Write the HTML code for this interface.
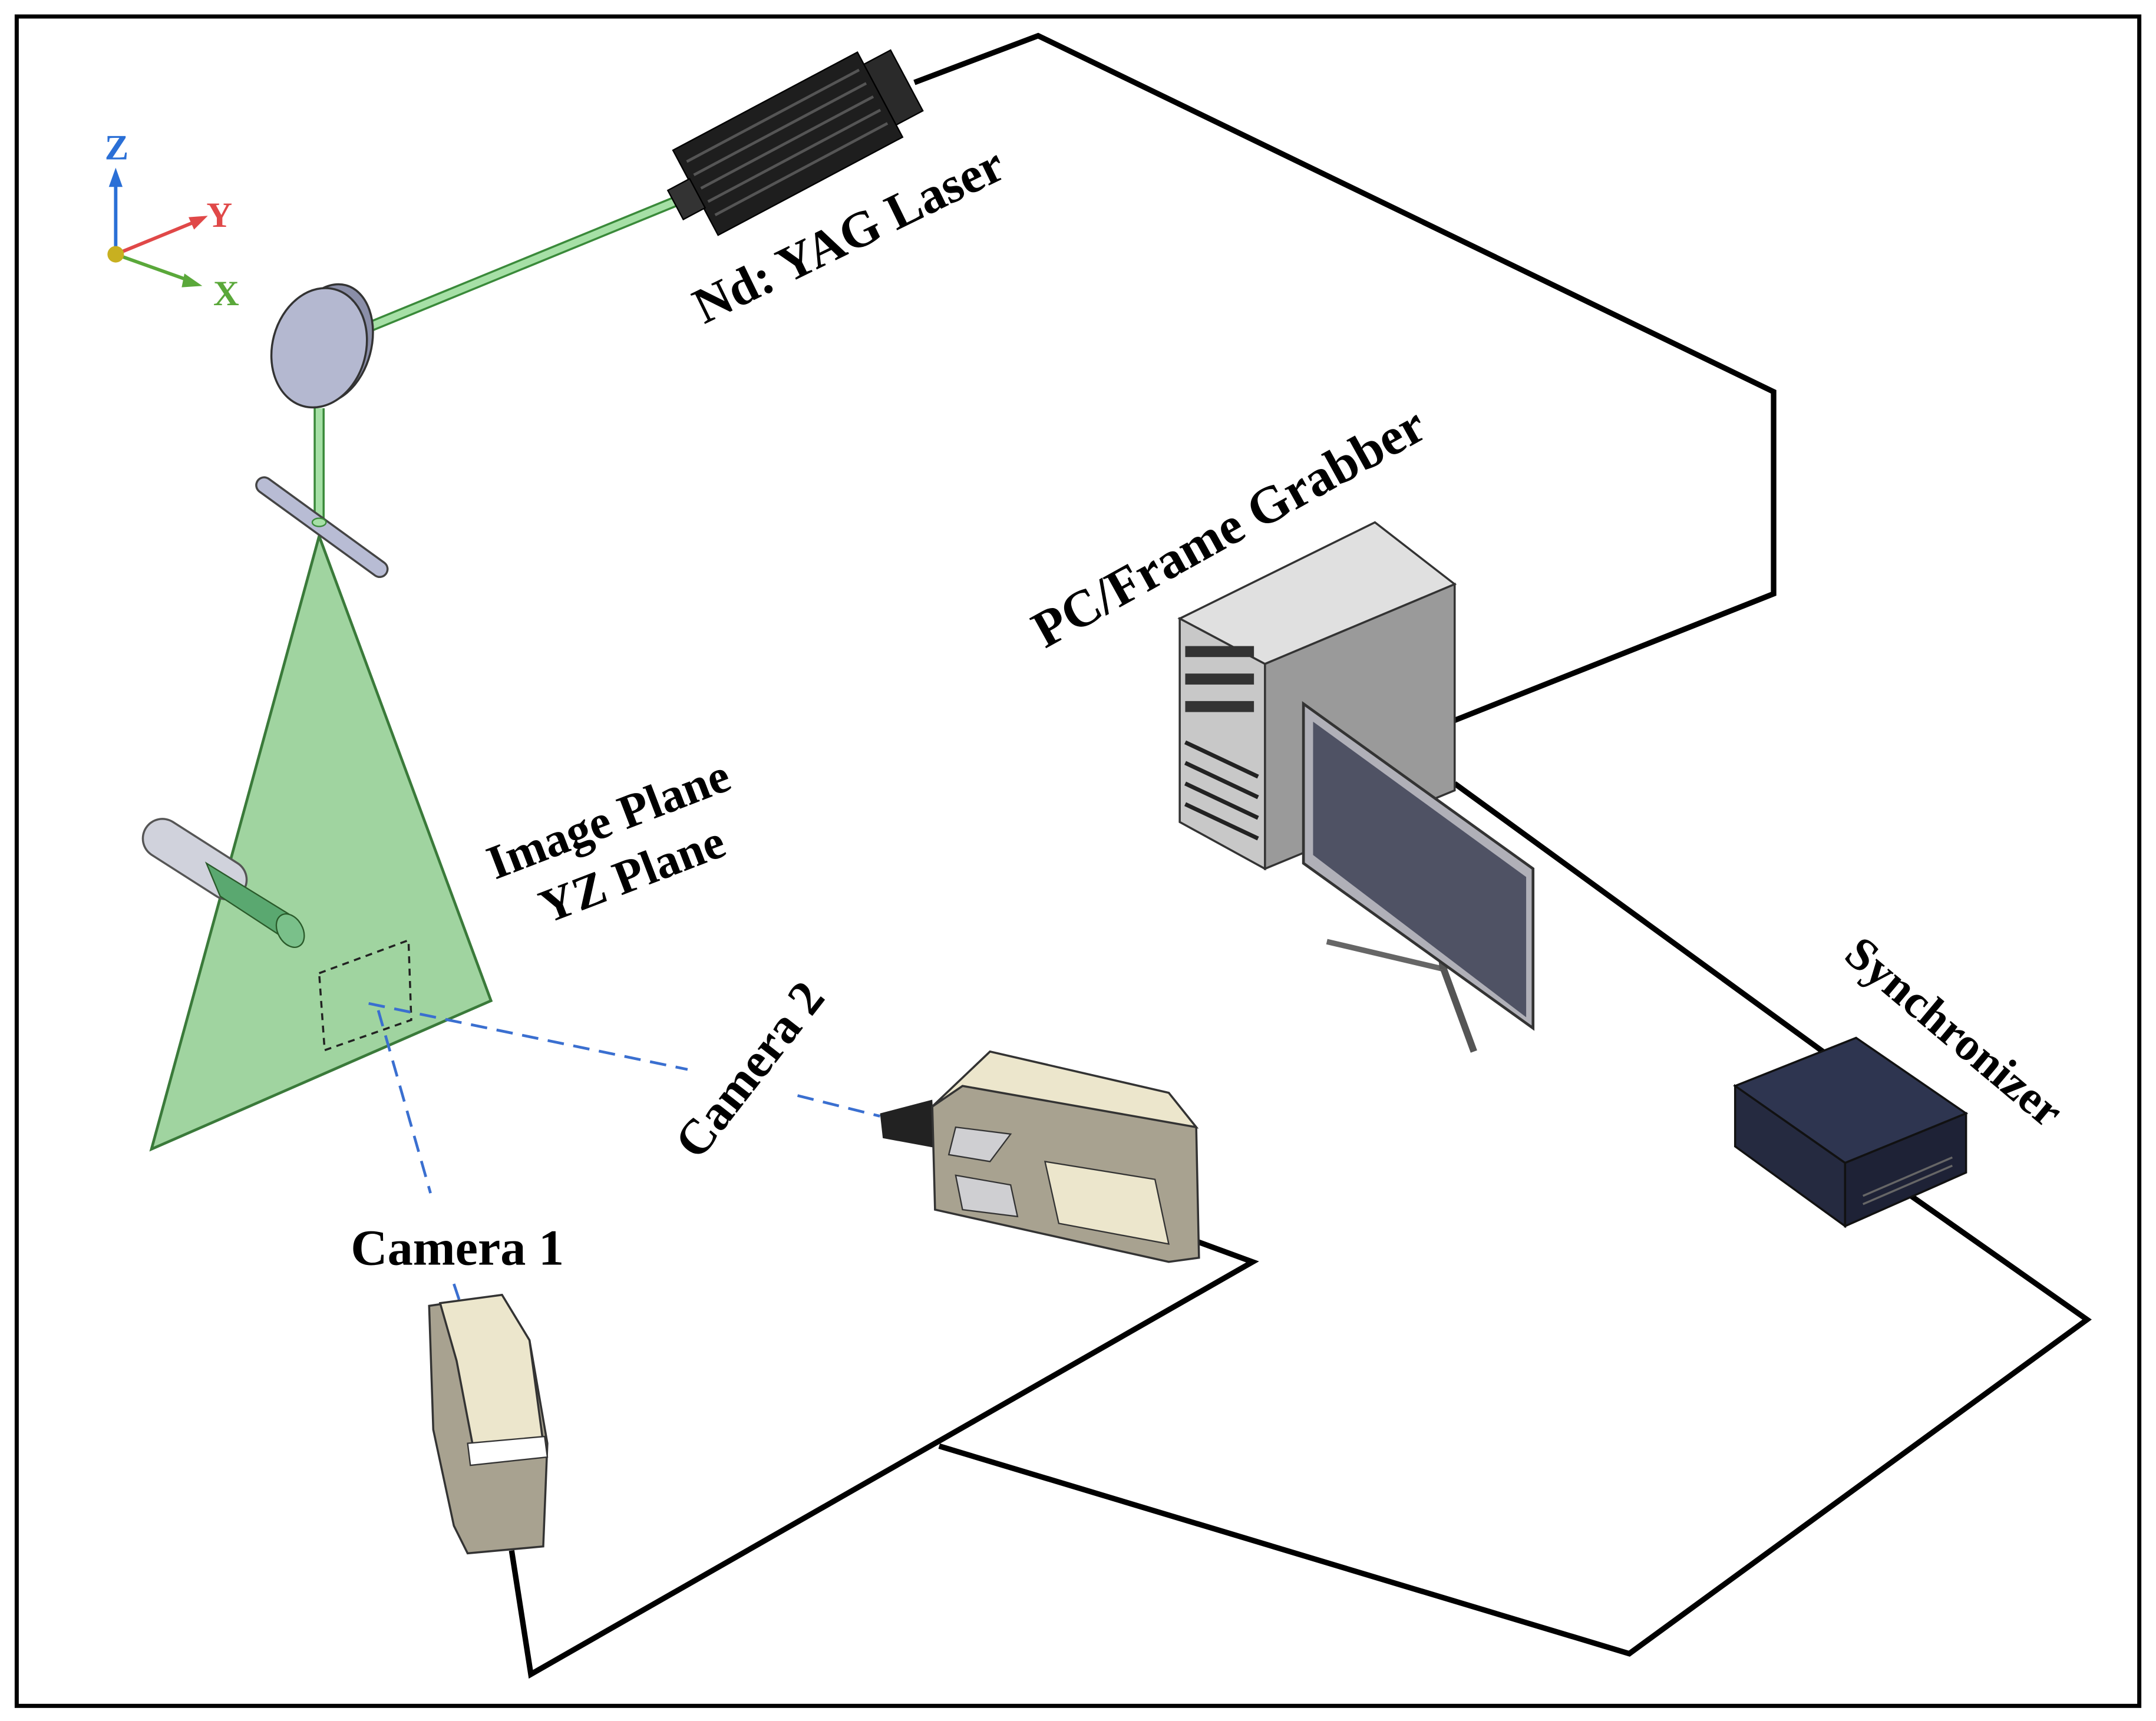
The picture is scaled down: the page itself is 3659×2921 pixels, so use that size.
<!DOCTYPE html>
<html><head><meta charset="utf-8"><style>
html,body{margin:0;padding:0;background:#fff;}
svg{display:block;}
text{font-family:"Liberation Serif",serif;font-weight:bold;}
</style></head><body>
<svg width="3659" height="2921" viewBox="0 0 1568 1252" xmlns="http://www.w3.org/2000/svg">
<rect x="0" y="0" width="1568" height="1252" fill="#fff"/>
<rect x="12" y="12" width="1544" height="1229" fill="none" stroke="#000" stroke-width="3"/>

<g fill="none" stroke="#000" stroke-width="4" stroke-linejoin="miter">
<polyline points="665,60 755,26 1290,285 1290,432 1058,524"/>
<polyline points="1058,570 1330,768"/>
<polyline points="1390,870 1518,960 1185,1203 683,1052"/>
<polyline points="372,1128 386,1218 911,918 862,900"/>
</g>

<g stroke-width="2.5">
<line x1="84" y1="185" x2="84" y2="128" stroke="#2a6fd6"/>
<polygon points="84,122 79,136 89,136" fill="#2a6fd6"/>
<line x1="84" y1="185" x2="145" y2="160" stroke="#e04848"/>
<polygon points="151,157 137,158 141,167" fill="#e04848"/>
<line x1="84" y1="185" x2="140" y2="205" stroke="#5aa83a"/>
<polygon points="147,208 134,199 132,209" fill="#5aa83a"/>
<circle cx="84" cy="185" r="6" fill="#c8b020"/>
</g>
<text x="76" y="116" font-size="26" fill="#2a6fd6" font-family="Liberation Sans">Z</text>
<text x="150" y="165" font-size="26" fill="#e04848" font-family="Liberation Sans">Y</text>
<text x="155" y="222" font-size="26" fill="#5aa83a" font-family="Liberation Sans">X</text>

<line x1="268" y1="238" x2="495" y2="145" stroke="#3a8a3a" stroke-width="8"/>
<line x1="268" y1="238" x2="495" y2="145" stroke="#a6e0a6" stroke-width="5"/>
<line x1="232" y1="297" x2="232" y2="382" stroke="#3a8a3a" stroke-width="8"/>
<line x1="232" y1="297" x2="232" y2="382" stroke="#a6e0a6" stroke-width="5"/>

<ellipse cx="240" cy="250" rx="30" ry="44" fill="#8a8ea8" stroke="#333" stroke-width="1.5" transform="rotate(15 240 250)"/>
<ellipse cx="232" cy="253" rx="34" ry="44" fill="#b4b8d0" stroke="#333" stroke-width="1.5" transform="rotate(15 232 253)"/>

<polygon points="232,390 110,836 357,728" fill="#a0d4a0" stroke="#3a7a3a" stroke-width="2"/>
<polygon points="232,708 297,684 299,742 236,764" fill="none" stroke="#222" stroke-width="1.5" stroke-dasharray="5,4"/>

<line x1="192" y1="353" x2="276" y2="414" stroke="#444" stroke-width="13" stroke-linecap="round"/>
<line x1="192" y1="353" x2="276" y2="414" stroke="#b8bcd4" stroke-width="10" stroke-linecap="round"/>
<ellipse cx="232" cy="380" rx="5" ry="3" fill="#a6e0a6" stroke="#3a8a3a"/>

<line x1="118" y1="610" x2="165" y2="640" stroke="#555" stroke-width="30" stroke-linecap="round"/>
<line x1="118" y1="610" x2="165" y2="640" stroke="#d0d2dc" stroke-width="27" stroke-linecap="round"/>
<polygon points="150,628 160,652 215,688 210,665" fill="#5aa870" stroke="#2a5a2a"/>
<ellipse cx="211" cy="677" rx="9" ry="13" fill="#7ac08a" stroke="#2a5a2a" transform="rotate(-30 211 677)"/>

<g transform="rotate(-28 575 100)">
<rect x="495" y="68" width="152" height="70" fill="#1e1e1e" stroke="#000"/>
<g stroke="#555" stroke-width="2">
<line x1="500" y1="80" x2="642" y2="80"/><line x1="500" y1="91" x2="642" y2="91"/>
<line x1="500" y1="102" x2="642" y2="102"/><line x1="500" y1="113" x2="642" y2="113"/>
<line x1="500" y1="124" x2="642" y2="124"/>
</g>
<rect x="647" y="78" width="22" height="50" fill="#2a2a2a" stroke="#000"/>
<rect x="478" y="92" width="18" height="24" fill="#333" stroke="#000"/>
</g>

<g stroke="#3a6fd0" stroke-width="2" stroke-dasharray="12,7" fill="none">
<line x1="268" y1="730" x2="500" y2="778"/>
<line x1="580" y1="797" x2="640" y2="812"/>
<line x1="275" y1="735" x2="313" y2="868"/>
<line x1="330" y1="934" x2="334" y2="946"/>
</g>

<polygon points="640,810 678,800 680,835 642,828" fill="#222"/>
<polygon points="720,765 850,795 870,820 872,915 850,918 680,880 678,805" fill="#a8a290" stroke="#333" stroke-width="1.5"/>
<polygon points="720,765 850,795 870,820 700,790 678,805" fill="#ece6cc" stroke="#333" stroke-width="1.5"/>
<polygon points="695,820 735,825 720,845 690,840" fill="#cfcfd2" stroke="#333"/>
<polygon points="695,855 735,862 740,885 700,880" fill="#cfcfd2" stroke="#333"/>
<polygon points="760,845 840,858 850,905 770,890" fill="#ece6cc" stroke="#333"/>

<polygon points="312,950 365,942 385,975 398,1050 395,1125 340,1130 330,1110 315,1040" fill="#a8a290" stroke="#333" stroke-width="1.5"/>
<polygon points="320,948 365,942 385,975 395,1050 345,1058 332,990" fill="#ece6cc" stroke="#333" stroke-width="1.5"/>
<polygon points="340,1050 396,1045 398,1060 342,1066" fill="#fff" stroke="#333"/>

<polygon points="858,450 1000,380 1058,425 920,483" fill="#e0e0e0" stroke="#333" stroke-width="1.5"/>
<polygon points="920,483 1058,425 1058,575 920,632" fill="#9a9a9a" stroke="#333" stroke-width="1.5"/>
<polygon points="858,450 920,483 920,632 858,598" fill="#c8c8c8" stroke="#333" stroke-width="1.5"/>
<g fill="#333"><rect x="862" y="470" width="50" height="8"/><rect x="862" y="490" width="50" height="8"/><rect x="862" y="510" width="50" height="8"/></g>
<g stroke="#222" stroke-width="3"><line x1="862" y1="540" x2="915" y2="565"/><line x1="862" y1="555" x2="915" y2="580"/><line x1="862" y1="570" x2="915" y2="595"/><line x1="862" y1="585" x2="915" y2="610"/></g>

<line x1="1050" y1="705" x2="965" y2="685" stroke="#666" stroke-width="4"/>
<line x1="1050" y1="705" x2="1072" y2="765" stroke="#555" stroke-width="5"/>
<line x1="1050" y1="705" x2="1045" y2="660" stroke="#555" stroke-width="6"/>
<polygon points="948,512 1115,632 1115,748 948,628" fill="#b0b0b8" stroke="#333" stroke-width="2"/>
<polygon points="955,525 1110,638 1110,740 955,622" fill="#4f5264"/>

<polygon points="1262,790 1350,755 1430,810 1342,846" fill="#2e3550" stroke="#111" stroke-width="1.5"/>
<polygon points="1262,790 1342,846 1342,892 1262,834" fill="#252a40" stroke="#111" stroke-width="1.5"/>
<polygon points="1342,846 1430,810 1430,853 1342,892" fill="#1e2236" stroke="#111" stroke-width="1.5"/>
<g stroke="#666" stroke-width="1.5"><line x1="1355" y1="870" x2="1420" y2="842"/><line x1="1355" y1="876" x2="1420" y2="848"/></g>

<g fill="#000">
<text x="0" y="0" font-size="37" transform="translate(512,236) rotate(-26)">Nd: YAG Laser</text>
<text x="0" y="0" font-size="38" transform="translate(760,472) rotate(-29)">PC/Frame Grabber</text>
<text x="0" y="0" font-size="35" transform="translate(360,640) rotate(-21)">Image Plane</text>
<text x="0" y="0" font-size="35" transform="translate(398,672) rotate(-21)">YZ Plane</text>
<text x="0" y="0" font-size="36" transform="translate(508,845) rotate(-52)">Camera 2</text>
<text x="255" y="920" font-size="37">Camera 1</text>
<text x="0" y="0" font-size="34" transform="translate(1340,697) rotate(40)">Synchronizer</text>
</g>
</svg>
</body></html>
